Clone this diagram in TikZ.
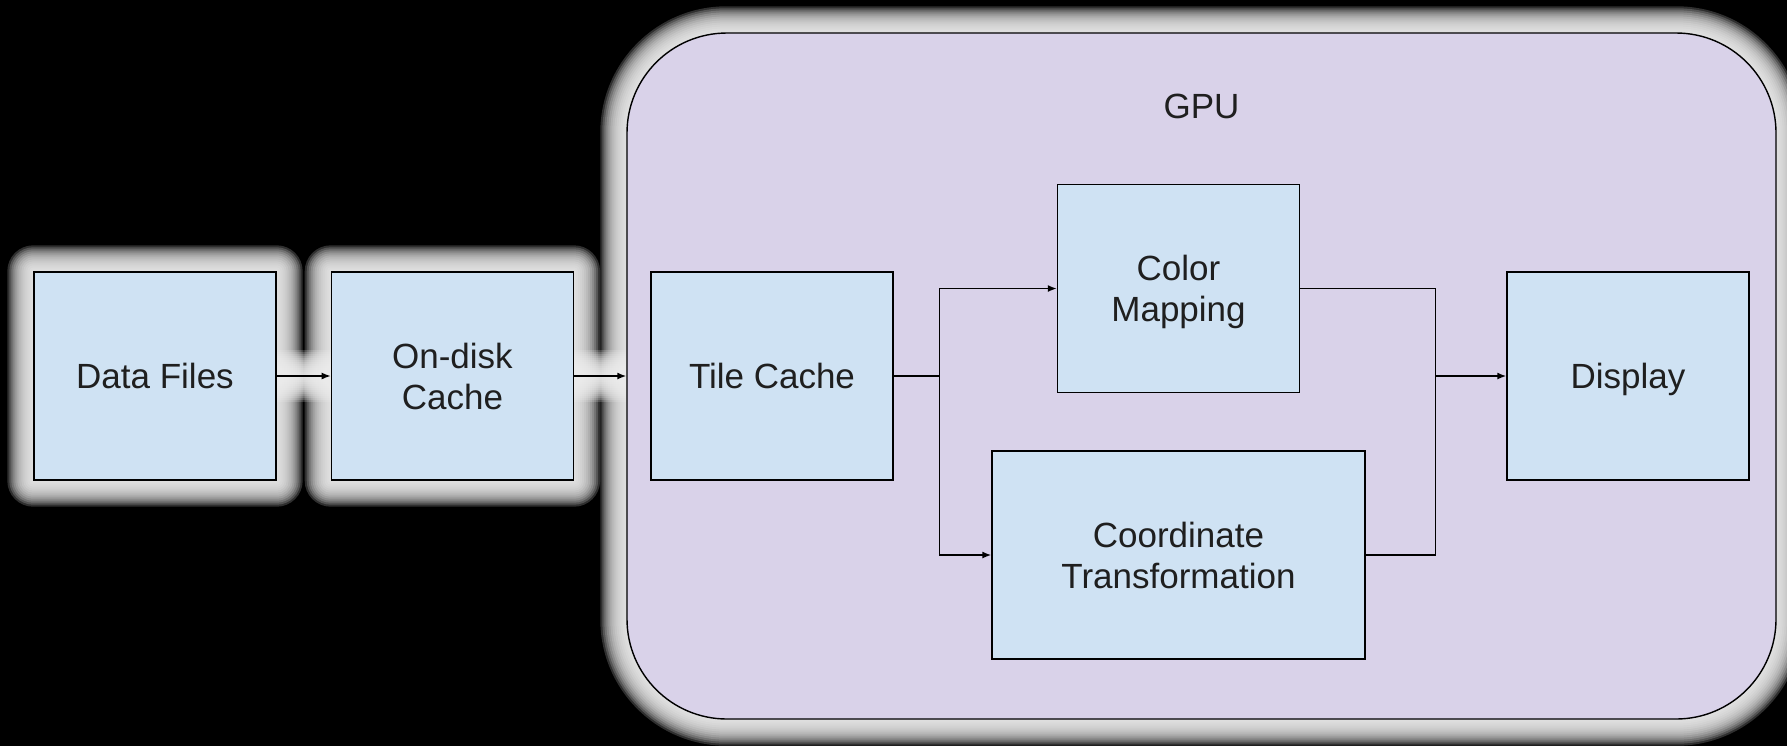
\documentclass[tikz,border=0pt]{standalone}
\usepackage{fontspec}
\setmainfont{Liberation Sans}
\usetikzlibrary{
  arrows.meta,
  positioning,
  calc,
  backgrounds
}
\definecolor{boxblue}{HTML}{CFE2F3}
\definecolor{gpupurple}{HTML}{D9D2E9}
\definecolor{glowgray}{HTML}{EEEEEE}
\definecolor{inkgray}{HTML}{1F1F1F}

\begin{document}
\begin{tikzpicture}[x=0.5pt, y=-0.5pt,
  stage/.style={draw=black, fill=boxblue, line width=0.7pt, text=inkgray, font=\fontsize{17.5}{20.5}\selectfont, align=center, text depth=0pt, minimum width=121pt, minimum height=104pt, inner sep=0pt},
  flow/.style={-{Latex[length=4.5pt,width=3.5pt]}, line width=0.75pt},
  link/.style={line width=0.75pt},
  glow/.style={glowgray, opacity=0.2}]
  \useasboundingbox (0,0) rectangle (1787,746);

  % outer stages
  \node[stage] (data) at (155,376) {Data Files};
  \node[stage, right=27pt of data] (disk) {On-disk\\Cache};

  % gpu block
  \node[draw=black, fill=gpupurple, line width=0.7pt, rounded corners=50pt, minimum width=574.5pt, minimum height=343pt, inner sep=0pt] (gpu) at (1201.5,376) {};
  \node[text=inkgray, font=\fontsize{17.5}{20.5}\selectfont, inner sep=0pt, below=30.5pt of gpu.north] (gpulabel) {GPU};
  \node[stage, right=12pt of gpu.west] (tile) {Tile Cache};
  \node[stage] (color) at (1178.5,288.5) {Color\\Mapping};
  \node[stage, minimum width=186.5pt] (coord) at (1178.5,555) {Coordinate\\Transformation};
  \node[stage, left=13.5pt of gpu.east] (display) {Display};

  \coordinate (split) at ($(tile.east)+(46,0)$);
  \coordinate (join) at ($(display.west)+(-71,0)$);

  \draw[flow] (data) -- (disk);
  \draw[flow] (disk) -- (gpu.west);
  \draw[link] (tile.east) -- (split);
  \draw[flow] (split) |- (color.west);
  \draw[flow] (split) |- (coord.west);
  \draw[link] (color.east) -| (join);
  \draw[link] (coord.east) -| (join);
  \draw[flow] (join) -- (display.west);

  % black page and glow
  \begin{pgfonlayer}{background}
    \fill[black] (0,0) rectangle (1787,746);
    \foreach \d in {26,24,...,2} {
      \foreach \n in {data, disk} {
        \fill[glow, rounded corners=0.5*\d*1pt] ($(\n.north west)+(-\d,-\d)$) rectangle ($(\n.south east)+(\d,\d)$);
      }
      \fill[glow, rounded corners=50pt+0.5*\d*1pt] ($(gpu.north west)+(-\d,-\d)$) rectangle ($(gpu.south east)+(\d,\d)$);
      \draw[glow, line width=\d*1pt] (data.east) -- (disk.west);
      \draw[glow, line width=\d*1pt] (disk.east) -- (gpu.west);
    }
  \end{pgfonlayer}
\end{tikzpicture}
\end{document}
